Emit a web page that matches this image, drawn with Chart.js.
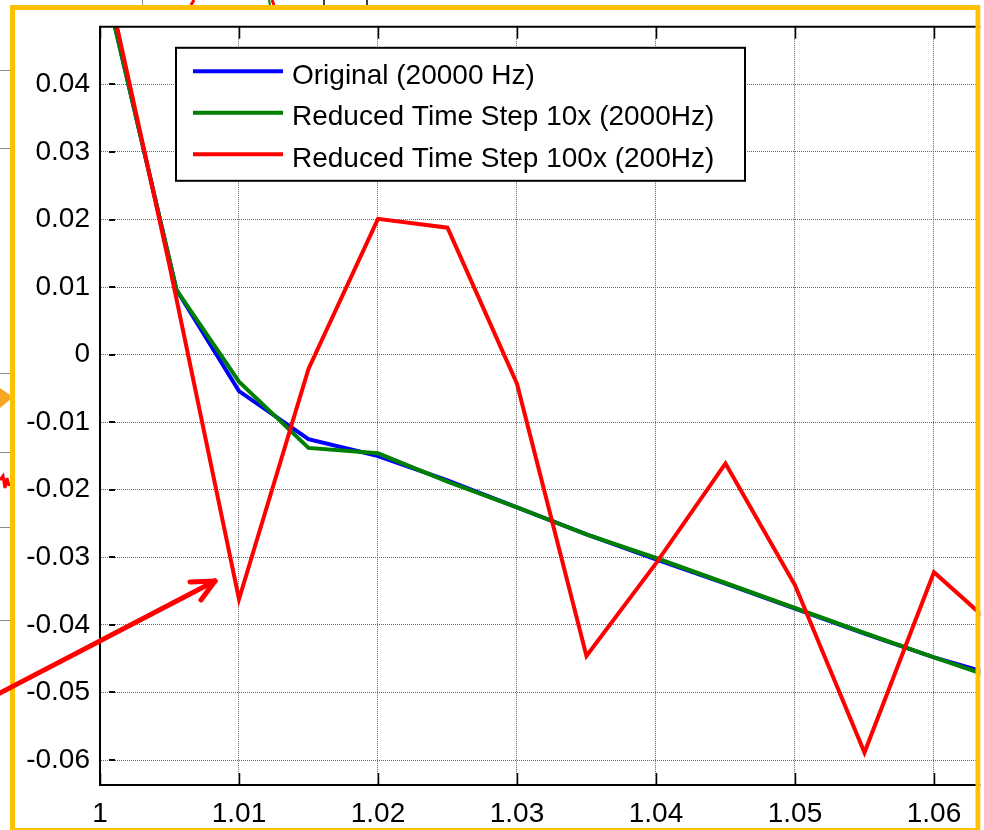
<!DOCTYPE html>
<html>
<head>
<meta charset="utf-8">
<script src="https://cdn.jsdelivr.net/npm/chart.js@4"></script>
<style>
  html, body { margin: 0; padding: 0; background: #ffffff; }
  #wrap { position: relative; width: 984px; height: 830px; overflow: hidden; background: #fff; }
  #c { position: absolute; left: 0; top: 0; }
  #deco { position: absolute; left: 0; top: 0; pointer-events: none; }
</style>
</head>
<body>
<div id="wrap">
  <canvas id="c" width="984" height="830"></canvas>
  <svg id="deco" width="984" height="830" viewBox="0 0 984 830">
    <!-- remnants of neighbouring content outside the highlight frame -->
    <g stroke="#8c8c8c" stroke-width="1">
      <line x1="0" y1="70.5" x2="10" y2="70.5"/>
      <line x1="0" y1="148.5" x2="10" y2="148.5"/>
      <line x1="0" y1="373.5" x2="10" y2="373.5"/>
      <line x1="0" y1="452.5" x2="10" y2="452.5"/>
      <line x1="0" y1="527.5" x2="10" y2="527.5"/>
      <line x1="0" y1="620.5" x2="10" y2="620.5"/>
      <line x1="142.5" y1="0" x2="142.5" y2="5"/>
    </g>
    <g stroke="#000" stroke-width="1.5">
      <line x1="324" y1="0" x2="324" y2="5"/>
      <line x1="367" y1="0" x2="367" y2="5"/>
    </g>
    <g stroke="#ff0000" stroke-width="3" fill="none">
      <line x1="191" y1="5" x2="194" y2="0"/>
      <line x1="274" y1="5" x2="272" y2="0"/>
      <polyline points="0,480 3,476 5,488 7,478 9,486"/>
    </g>
    <line x1="270" y1="5" x2="269" y2="0" stroke="#008000" stroke-width="2"/>
    <polygon points="0,388 13,397 0,408" fill="#f5a623"/>
    <!-- highlight frame -->
    <rect x="12.5" y="7.5" width="965.5" height="823" fill="none" stroke="#ffc000" stroke-width="5"/>
    <rect x="980.5" y="0" width="4" height="830" fill="#ffffff"/>
    <!-- red annotation arrow -->
    <g stroke="#ff0000" stroke-width="5" stroke-linecap="round" fill="none">
      <line x1="-2" y1="694" x2="215" y2="581"/>
      <line x1="190" y1="582" x2="215" y2="581"/>
      <line x1="201" y1="600" x2="215" y2="581"/>
    </g>
  </svg>
</div>
<script>
// ---------------- data ----------------
const seriesNames = [
  'Original (20000 Hz)',
  'Reduced Time Step 10x (2000Hz)',
  'Reduced Time Step 100x (200Hz)'
];
const seriesColors = ['#0000ff', '#008000', '#ff0000'];

const xTicks = [1.00, 1.01, 1.02, 1.03, 1.04, 1.05, 1.06];
const xTickLabels = ['1', '1.01', '1.02', '1.03', '1.04', '1.05', '1.06'];
const yTicks = [0.04, 0.03, 0.02, 0.01, 0, -0.01, -0.02, -0.03, -0.04, -0.05, -0.06];
const yTickLabels = ['0.04', '0.03', '0.02', '0.01', '0', '-0.01', '-0.02', '-0.03', '-0.04', '-0.05', '-0.06'];

const xMin = 1.0, xMax = 1.0636;
const yMin = -0.0637, yMax = 0.04853;

const timeOriginal = [1.000, 1.0055, 1.010, 1.015, 1.020, 1.025, 1.030, 1.035, 1.040, 1.045, 1.050, 1.055, 1.060, 1.065];
const valuesOriginal = [0.058, 0.0096, -0.0054, -0.0125, -0.0150, -0.0186, -0.0226, -0.0266, -0.0303, -0.0339, -0.0376, -0.0413, -0.0448, -0.0478];

const time10x = [1.000, 1.0055, 1.010, 1.015, 1.020, 1.025, 1.030, 1.035, 1.040, 1.045, 1.050, 1.055, 1.060, 1.065];
const values10x = [0.058, 0.0096, -0.0040, -0.0138, -0.0146, -0.0188, -0.0226, -0.0266, -0.0301, -0.0338, -0.0375, -0.0412, -0.0448, -0.0483];

const time100x = [1.000, 1.005, 1.010, 1.015, 1.020, 1.025, 1.030, 1.035, 1.040, 1.045, 1.050, 1.055, 1.060, 1.065];
const values100x = [0.060, 0.0132, -0.0362, -0.0021, 0.0201, 0.0188, -0.0043, -0.0446, -0.0309, -0.0161, -0.0341, -0.0589, -0.0322, -0.0414];

// ---------------- helpers ----------------
const FONT = "'Liberation Sans', Arial, Helvetica, sans-serif";
const pairs = (xs, ys) => xs.map((x, i) => ({ x: x, y: ys[i] }));

const lineStyle = (i, order) => ({
  label: seriesNames[i],
  borderColor: seriesColors[i],
  backgroundColor: seriesColors[i],
  borderWidth: 4,
  pointRadius: 0,
  pointHoverRadius: 0,
  tension: 0,
  fill: false,
  clip: 0,
  order: order
});

// box top edge and inside tick marks (MATLAB style)
const boxPlugin = {
  id: 'boxPlugin',
  afterDatasetsDraw(chart) {
    const { ctx, chartArea: a, scales } = chart;
    const x = scales.x, y = scales.y;
    ctx.save();
    ctx.strokeStyle = '#000';
    ctx.lineWidth = 2;
    ctx.beginPath();
    ctx.moveTo(a.left - 1, a.top);
    ctx.lineTo(a.right, a.top);
    ctx.stroke();
    ctx.lineWidth = 1.5;
    xTicks.forEach(v => {
      const px = Math.round(x.getPixelForValue(v)) + 0.5;
      ctx.beginPath();
      ctx.moveTo(px, a.bottom);
      ctx.lineTo(px, a.bottom - 12);
      ctx.moveTo(px, a.top);
      ctx.lineTo(px, a.top + 12);
      ctx.stroke();
    });
    ctx.lineWidth = 2;
    yTicks.forEach(v => {
      const py = Math.round(y.getPixelForValue(v));
      ctx.beginPath();
      ctx.moveTo(a.left + 9, py);
      ctx.lineTo(a.left + 15, py);
      ctx.stroke();
    });
    ctx.restore();
  }
};

// legend inside the axes, upper left
const legendPlugin = {
  id: 'insideLegend',
  afterDraw(chart) {
    const { ctx, chartArea: a } = chart;
    const left = a.left + 76, top = a.top + 21;
    const w = 569, h = 133;
    ctx.save();
    ctx.fillStyle = '#fff';
    ctx.fillRect(left, top, w, h);
    ctx.strokeStyle = '#000';
    ctx.lineWidth = 2;
    ctx.strokeRect(left, top, w, h);
    ctx.font = '28px ' + FONT;
    ctx.textBaseline = 'alphabetic';
    ctx.textAlign = 'left';
    chart.data.datasets.forEach((ds, i) => {
      const base = top + 36 + i * 41.5;
      ctx.strokeStyle = ds.borderColor;
      ctx.lineWidth = 4;
      ctx.beginPath();
      ctx.moveTo(left + 17, base - 12.5);
      ctx.lineTo(left + 107, base - 12.5);
      ctx.stroke();
      ctx.fillStyle = '#000';
      ctx.fillText(ds.label, left + 116, base);
    });
    ctx.restore();
  }
};

const gridCommon = {
  color: '#666666',
  lineWidth: 1,
  drawTicks: false
};

new Chart(document.getElementById('c'), {
  type: 'line',
  data: {
    datasets: [
      Object.assign({ data: pairs(timeOriginal, valuesOriginal) }, lineStyle(0, 3)),
      Object.assign({ data: pairs(time10x, values10x) }, lineStyle(1, 2)),
      Object.assign({ data: pairs(time100x, values100x) }, lineStyle(2, 1))
    ]
  },
  options: {
    responsive: false,
    animation: false,
    devicePixelRatio: 1,
    parsing: false,
    normalized: true,
    layout: { padding: { top: 23, left: 0, right: 0, bottom: 0 } },
    plugins: {
      legend: { display: false },
      tooltip: { enabled: false }
    },
    events: [],
    scales: {
      x: {
        type: 'linear',
        min: xMin,
        max: xMax,
        afterBuildTicks: s => { s.ticks = xTicks.map(v => ({ value: v })); },
        afterFit: s => { s.height = 45; },
        ticks: {
          autoSkip: false,
          maxRotation: 0,
          minRotation: 0,
          padding: 12,
          color: '#000',
          font: { family: FONT, size: 28 },
          callback: (v, i) => xTickLabels[i]
        },
        grid: gridCommon,
        border: { display: true, color: '#000', width: 2, dash: [1, 1] }
      },
      y: {
        type: 'linear',
        min: yMin,
        max: yMax,
        afterBuildTicks: s => { s.ticks = yTicks.map(v => ({ value: v })); },
        afterFit: s => { s.width = 100; },
        ticks: {
          autoSkip: false,
          padding: 10,
          color: '#000',
          font: { family: FONT, size: 28 },
          callback: (v, i) => yTickLabels[i]
        },
        grid: gridCommon,
        border: { display: true, color: '#000', width: 2, dash: [1, 1] }
      }
    }
  },
  plugins: [boxPlugin, legendPlugin]
});
</script>
</body>
</html>
